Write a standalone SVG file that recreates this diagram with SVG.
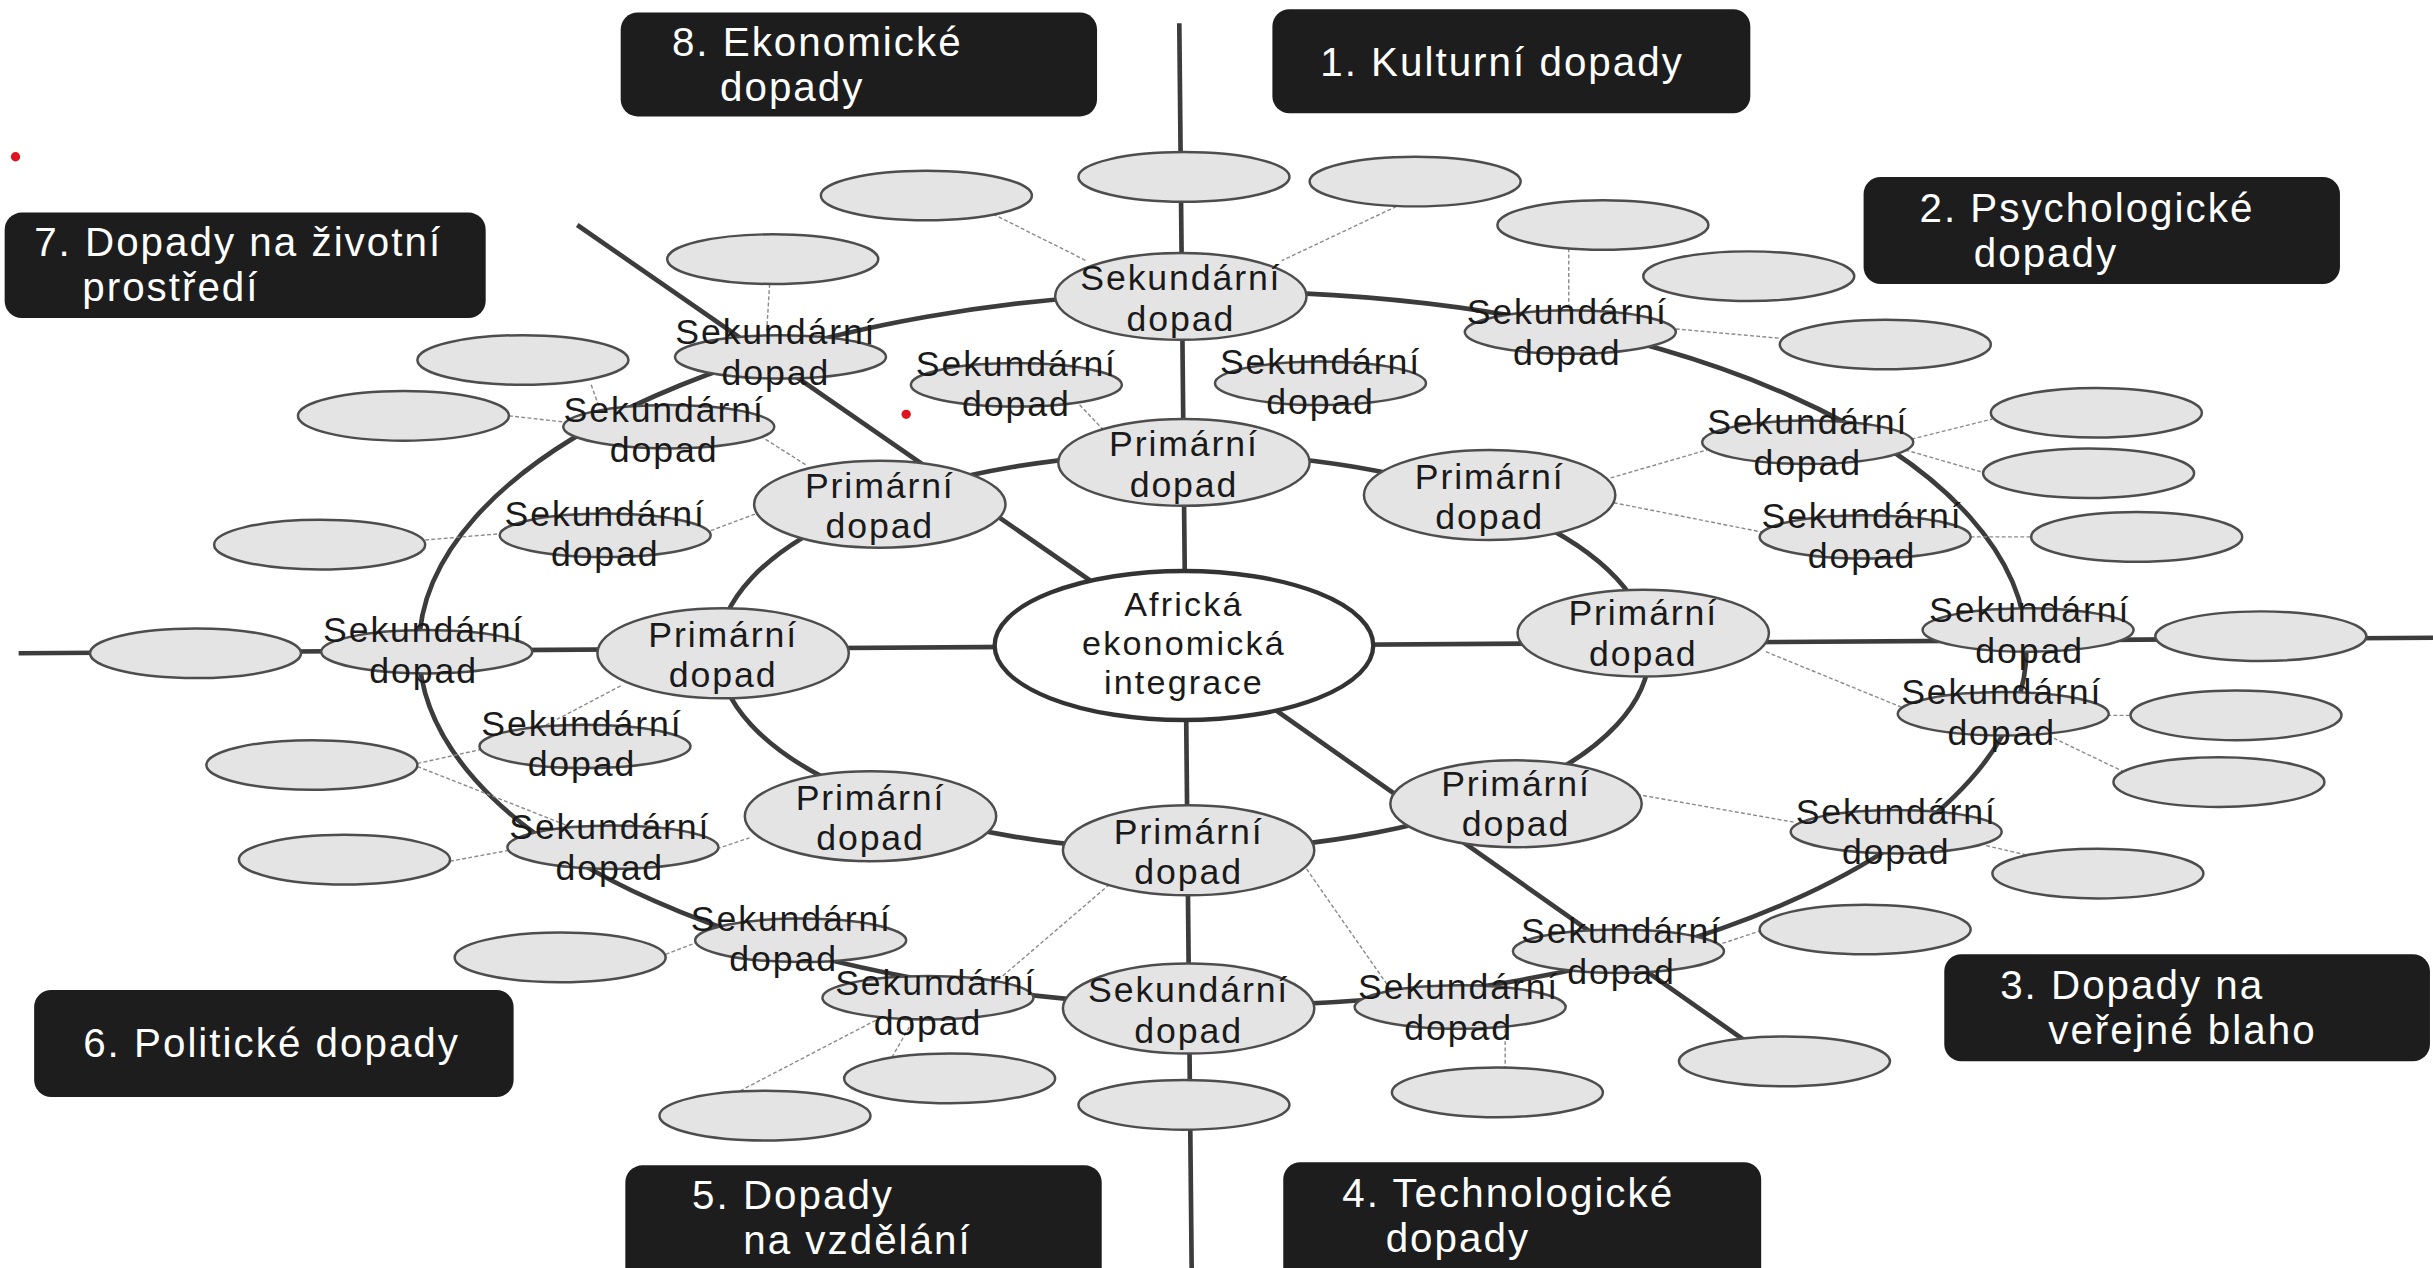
<svg xmlns="http://www.w3.org/2000/svg" width="2433" height="1268" viewBox="0 0 2433 1268">
<style>
.box{fill:#1d1d1d}
.lbl{font-family:"Liberation Sans",Arial,sans-serif;font-size:26px;letter-spacing:1.3px;fill:#ffffff}
.lblc{text-anchor:middle}
.nd{fill:#e4e4e4;stroke:#4d4d4d;stroke-width:1.6}
.ctr{fill:#ffffff;stroke:#333333;stroke-width:2.8}
.t{font-family:"Liberation Sans",Arial,sans-serif;font-size:23px;letter-spacing:1.2px;fill:#1a1a1a;text-anchor:middle}
.tc{font-size:22px;letter-spacing:1.4px}
.thick{fill:none;stroke:#3c3c3c;stroke-width:3}
.thin{fill:none;stroke:#8a8a8a;stroke-width:0.9;stroke-dasharray:2.5 1.5}
.dot{fill:#e0141e}
</style>
<rect width="2433" height="1268" fill="#ffffff"/>
<g transform="scale(1.5517)">

<g id="connectors">
  <line class="thick" x1="760" y1="15" x2="768" y2="820"/>
  <line class="thick" x1="12" y1="421" x2="1570" y2="411"/>
  <line class="thick" x1="372" y1="145" x2="763" y2="416"/>
  <line class="thick" x1="763" y1="416" x2="1125" y2="671"/>
  <ellipse class="thick" cx="763" cy="420" rx="300" ry="128"/>
  <ellipse class="thick" cx="788" cy="418" rx="518" ry="230"/>
  <line class="thin" x1="640" y1="138" x2="700" y2="168"/>
  <line class="thin" x1="900" y1="133" x2="826" y2="168"/>
  <line class="thin" x1="1011" y1="160" x2="1011" y2="200"/>
  <line class="thin" x1="1080" y1="212" x2="1147" y2="218"/>
  <line class="thin" x1="693" y1="258" x2="712" y2="278"/>
  <line class="thin" x1="496" y1="183" x2="494" y2="215"/>
  <line class="thin" x1="381" y1="248" x2="386" y2="262"/>
  <line class="thin" x1="328" y1="268" x2="364" y2="272"/>
  <line class="thin" x1="490" y1="281" x2="520" y2="300"/>
  <line class="thin" x1="274" y1="348" x2="322" y2="344"/>
  <line class="thin" x1="458" y1="342" x2="490" y2="330"/>
  <line class="thin" x1="400" y1="442" x2="343" y2="472"/>
  <line class="thin" x1="269" y1="492" x2="310" y2="483"/>
  <line class="thin" x1="269" y1="494" x2="368" y2="533"/>
  <line class="thin" x1="290" y1="555" x2="328" y2="548"/>
  <line class="thin" x1="462" y1="547" x2="483" y2="540"/>
  <line class="thin" x1="429" y1="615" x2="450" y2="607"/>
  <line class="thin" x1="715" y1="570" x2="645" y2="630"/>
  <line class="thin" x1="590" y1="655" x2="575" y2="681"/>
  <line class="thin" x1="575" y1="652" x2="475" y2="704"/>
  <line class="thin" x1="842" y1="560" x2="895" y2="636"/>
  <line class="thin" x1="970" y1="663" x2="970" y2="688"/>
  <line class="thin" x1="1110" y1="608" x2="1134" y2="600"/>
  <line class="thin" x1="1055" y1="512" x2="1157" y2="530"/>
  <line class="thin" x1="1280" y1="545" x2="1315" y2="553"/>
  <line class="thin" x1="1138" y1="420" x2="1226" y2="456"/>
  <line class="thin" x1="1358" y1="461" x2="1373" y2="461"/>
  <line class="thin" x1="1320" y1="474" x2="1370" y2="498"/>
  <line class="thin" x1="1038" y1="308" x2="1100" y2="290"/>
  <line class="thin" x1="1040" y1="324" x2="1136" y2="343"/>
  <line class="thin" x1="1270" y1="346" x2="1309" y2="346"/>
  <line class="thin" x1="1232" y1="283" x2="1284" y2="270"/>
  <line class="thin" x1="1228" y1="290" x2="1280" y2="305"/>
</g>

<g id="blank-nodes">
  <ellipse id="b1" class="nd" cx="597" cy="126" rx="68" ry="16"/>
  <ellipse id="b2" class="nd" cx="763" cy="114" rx="68" ry="16"/>
  <ellipse id="b3" class="nd" cx="912" cy="117" rx="68" ry="16"/>
  <ellipse id="b4" class="nd" cx="1033" cy="145" rx="68" ry="16"/>
  <ellipse id="b5" class="nd" cx="1127" cy="178" rx="68" ry="16"/>
  <ellipse id="b6" class="nd" cx="1215" cy="222" rx="68" ry="16"/>
  <ellipse id="b7" class="nd" cx="1351" cy="266" rx="68" ry="16"/>
  <ellipse id="b8" class="nd" cx="1346" cy="305" rx="68" ry="16"/>
  <ellipse id="b9" class="nd" cx="1377" cy="346" rx="68" ry="16"/>
  <ellipse id="b10" class="nd" cx="1457" cy="410" rx="68" ry="16"/>
  <ellipse id="b11" class="nd" cx="1441" cy="461" rx="68" ry="16"/>
  <ellipse id="b12" class="nd" cx="1430" cy="504" rx="68" ry="16"/>
  <ellipse id="b13" class="nd" cx="1352" cy="563" rx="68" ry="16"/>
  <ellipse id="b14" class="nd" cx="1202" cy="599" rx="68" ry="16"/>
  <ellipse id="b15" class="nd" cx="1150" cy="684" rx="68" ry="16"/>
  <ellipse id="b16" class="nd" cx="763" cy="712" rx="68" ry="16"/>
  <ellipse id="b17" class="nd" cx="965" cy="704" rx="68" ry="16"/>
  <ellipse id="b18" class="nd" cx="612" cy="695" rx="68" ry="16"/>
  <ellipse id="b19" class="nd" cx="493" cy="719" rx="68" ry="16"/>
  <ellipse id="b20" class="nd" cx="222" cy="554" rx="68" ry="16"/>
  <ellipse id="b21" class="nd" cx="361" cy="617" rx="68" ry="16"/>
  <ellipse id="b22" class="nd" cx="337" cy="232" rx="68" ry="16"/>
  <ellipse id="b23" class="nd" cx="126" cy="421" rx="68" ry="16"/>
  <ellipse id="b24" class="nd" cx="206" cy="351" rx="68" ry="16"/>
  <ellipse id="b25" class="nd" cx="201" cy="493" rx="68" ry="16"/>
  <ellipse id="b27" class="nd" cx="498" cy="167" rx="68" ry="16"/>
  <ellipse id="b28" class="nd" cx="260" cy="268" rx="68" ry="16"/>
</g>

<g id="s-top"><ellipse class="nd" cx="761" cy="191" rx="81" ry="28"/><text class="t"><tspan x="761" y="187">Sekundární</tspan><tspan x="761" y="213">dopad</tspan></text></g>
<g id="s-r"><ellipse class="nd" cx="766" cy="650" rx="81" ry="29"/><text class="t"><tspan x="766" y="646">Sekundární</tspan><tspan x="766" y="672">dopad</tspan></text></g>
<g id="s-a"><ellipse class="nd" cx="503" cy="230" rx="68" ry="14"/><text class="t"><tspan x="500" y="222">Sekundární</tspan><tspan x="500" y="248">dopad</tspan></text></g>
<g id="s-b"><ellipse class="nd" cx="655" cy="248" rx="68" ry="14"/><text class="t"><tspan x="655" y="242">Sekundární</tspan><tspan x="655" y="268">dopad</tspan></text></g>
<g id="s-c"><ellipse class="nd" cx="851" cy="247" rx="68" ry="14"/><text class="t"><tspan x="851" y="241">Sekundární</tspan><tspan x="851" y="267">dopad</tspan></text></g>
<g id="s-d"><ellipse class="nd" cx="1012" cy="214" rx="68" ry="14"/><text class="t"><tspan x="1010" y="209">Sekundární</tspan><tspan x="1010" y="235">dopad</tspan></text></g>
<g id="s-e"><ellipse class="nd" cx="431" cy="275" rx="68" ry="14"/><text class="t"><tspan x="428" y="272">Sekundární</tspan><tspan x="428" y="298">dopad</tspan></text></g>
<g id="s-f"><ellipse class="nd" cx="1165" cy="285" rx="68" ry="14"/><text class="t"><tspan x="1165" y="280">Sekundární</tspan><tspan x="1165" y="306">dopad</tspan></text></g>
<g id="s-g"><ellipse class="nd" cx="390" cy="345" rx="68" ry="14"/><text class="t"><tspan x="390" y="339">Sekundární</tspan><tspan x="390" y="365">dopad</tspan></text></g>
<g id="s-h"><ellipse class="nd" cx="1202" cy="346" rx="68" ry="14"/><text class="t"><tspan x="1200" y="340">Sekundární</tspan><tspan x="1200" y="366">dopad</tspan></text></g>
<g id="s-i"><ellipse class="nd" cx="275" cy="420" rx="68" ry="14"/><text class="t"><tspan x="273" y="414">Sekundární</tspan><tspan x="273" y="440">dopad</tspan></text></g>
<g id="s-j"><ellipse class="nd" cx="1307" cy="406" rx="68" ry="14"/><text class="t"><tspan x="1308" y="401">Sekundární</tspan><tspan x="1308" y="427">dopad</tspan></text></g>
<g id="s-k"><ellipse class="nd" cx="377" cy="481" rx="68" ry="14"/><text class="t"><tspan x="375" y="474">Sekundární</tspan><tspan x="375" y="500">dopad</tspan></text></g>
<g id="s-l"><ellipse class="nd" cx="1291" cy="460" rx="68" ry="14"/><text class="t"><tspan x="1290" y="454">Sekundární</tspan><tspan x="1290" y="480">dopad</tspan></text></g>
<g id="s-m"><ellipse class="nd" cx="395" cy="546" rx="68" ry="14"/><text class="t"><tspan x="393" y="541">Sekundární</tspan><tspan x="393" y="567">dopad</tspan></text></g>
<g id="s-n"><ellipse class="nd" cx="1222" cy="536" rx="68" ry="14"/><text class="t"><tspan x="1222" y="531">Sekundární</tspan><tspan x="1222" y="557">dopad</tspan></text></g>
<g id="s-o"><ellipse class="nd" cx="516" cy="606" rx="68" ry="14"/><text class="t"><tspan x="510" y="600">Sekundární</tspan><tspan x="505" y="626">dopad</tspan></text></g>
<g id="s-p"><ellipse class="nd" cx="1043" cy="613" rx="68" ry="14"/><text class="t"><tspan x="1045" y="608">Sekundární</tspan><tspan x="1045" y="634">dopad</tspan></text></g>
<g id="s-q"><ellipse class="nd" cx="598" cy="643" rx="68" ry="14"/><text class="t"><tspan x="603" y="641">Sekundární</tspan><tspan x="598" y="667">dopad</tspan></text></g>
<g id="s-s"><ellipse class="nd" cx="941" cy="649" rx="68" ry="14"/><text class="t"><tspan x="940" y="644">Sekundární</tspan><tspan x="940" y="670">dopad</tspan></text></g>

<g id="p1"><ellipse class="nd" cx="763" cy="298" rx="81" ry="28"/><text class="t"><tspan x="763" y="294">Primární</tspan><tspan x="763" y="320">dopad</tspan></text></g>
<g id="p2"><ellipse class="nd" cx="960" cy="319" rx="81" ry="29"/><text class="t"><tspan x="960" y="315">Primární</tspan><tspan x="960" y="341">dopad</tspan></text></g>
<g id="p3"><ellipse class="nd" cx="1059" cy="408" rx="81" ry="28"/><text class="t"><tspan x="1059" y="403">Primární</tspan><tspan x="1059" y="429">dopad</tspan></text></g>
<g id="p4"><ellipse class="nd" cx="977" cy="518" rx="81" ry="28"/><text class="t"><tspan x="977" y="513">Primární</tspan><tspan x="977" y="539">dopad</tspan></text></g>
<g id="p5"><ellipse class="nd" cx="766" cy="548" rx="81" ry="29"/><text class="t"><tspan x="766" y="544">Primární</tspan><tspan x="766" y="570">dopad</tspan></text></g>
<g id="p6"><ellipse class="nd" cx="561" cy="526" rx="81" ry="29"/><text class="t"><tspan x="561" y="522">Primární</tspan><tspan x="561" y="548">dopad</tspan></text></g>
<g id="p7"><ellipse class="nd" cx="466" cy="421" rx="81" ry="29"/><text class="t"><tspan x="466" y="417">Primární</tspan><tspan x="466" y="443">dopad</tspan></text></g>
<g id="p8"><ellipse class="nd" cx="567" cy="325" rx="81" ry="28"/><text class="t"><tspan x="567" y="321">Primární</tspan><tspan x="567" y="347">dopad</tspan></text></g>

<g id="center"><ellipse class="ctr" cx="763" cy="416" rx="122" ry="48"/><text class="t tc"><tspan x="763" y="397">Africká</tspan><tspan x="763" y="422">ekonomická</tspan><tspan x="763" y="447">integrace</tspan></text></g>

<g id="cat1"><rect class="box" x="820" y="6" width="308" height="67" rx="11"/><text class="lbl lblc" x="968" y="49">1. Kulturní dopady</text></g>
<g id="cat2"><rect class="box" x="1201" y="114" width="307" height="69" rx="11"/><text class="lbl"><tspan x="1237" y="143">2. Psychologické</tspan><tspan x="1272" y="172">dopady</tspan></text></g>
<g id="cat3"><rect class="box" x="1253" y="615" width="313" height="69" rx="11"/><text class="lbl"><tspan x="1289" y="644">3. Dopady na</tspan><tspan x="1320" y="673">veřejné blaho</tspan></text></g>
<g id="cat4"><rect class="box" x="827" y="749" width="308" height="82" rx="11"/><text class="lbl"><tspan x="865" y="778">4. Technologické</tspan><tspan x="893" y="807">dopady</tspan></text></g>
<g id="cat5"><rect class="box" x="403" y="751" width="307" height="82" rx="11"/><text class="lbl"><tspan x="446" y="779">5. Dopady</tspan><tspan x="479" y="808">na vzdělání</tspan></text></g>
<g id="cat6"><rect class="box" x="22" y="638" width="309" height="69" rx="11"/><text class="lbl lblc" x="175" y="681">6. Politické dopady</text></g>
<g id="cat7"><rect class="box" x="3" y="137" width="310" height="68" rx="11"/><text class="lbl"><tspan x="22" y="165">7. Dopady na životní</tspan><tspan x="53" y="194">prostředí</tspan></text></g>
<g id="cat8"><rect class="box" x="400" y="8" width="307" height="67" rx="11"/><text class="lbl"><tspan x="433" y="36">8. Ekonomické</tspan><tspan x="464" y="65">dopady</tspan></text></g>

<circle class="dot" cx="10" cy="101" r="3"/>
<circle class="dot" cx="584" cy="267" r="3"/>
</g>
</svg>
